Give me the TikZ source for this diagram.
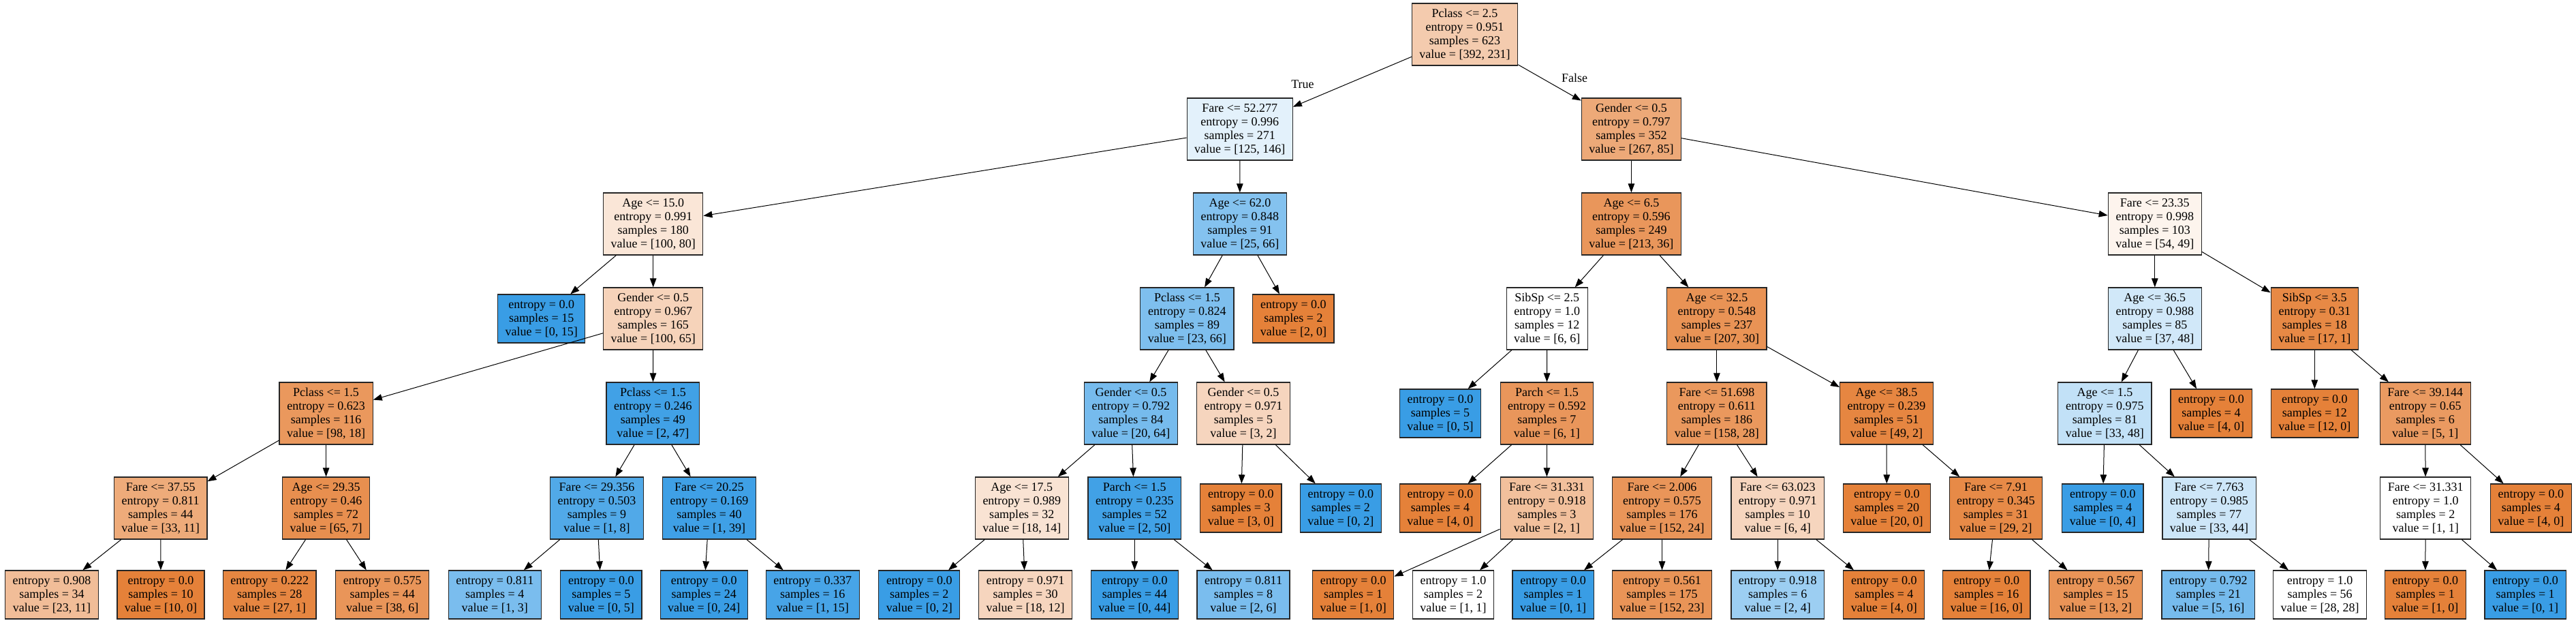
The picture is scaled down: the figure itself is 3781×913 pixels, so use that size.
\documentclass[tikz,border=0pt]{standalone}
\usepackage{fontspec}
\setmainfont{Liberation Serif}
\usetikzlibrary{arrows.meta}
\definecolor{orng}{RGB}{229,129,57}
\definecolor{blu}{RGB}{57,157,229}
\tikzset{
  cond/.style={draw=black!85,line width=1.2pt,align=center,inner xsep=11pt,inner ysep=2pt,minimum height=91pt},
  leaf/.style={cond,minimum height=71pt},
  c0/.style={fill=orng!#1!white},
  c1/.style={fill=blu!#1!white},
  arr/.style={-{Triangle[length=13pt,width=9.5pt]},line width=1pt}
}
\begin{document}
\begin{tikzpicture}[x=1pt,y=-1pt,every node/.style={font=\fontsize{18}{20}\selectfont}]
    \useasboundingbox (0,0) rectangle (3781,913);
    % depth 0 and 1
    \node[cond,c0=41](root)at(2150,50.5){Pclass <= 2.5\\entropy = 0.951\\samples = 623\\value = [392, 231]};
    \node[cond,c1=14](L)at(1819.7,189.5){Fare <= 52.277\\entropy = 0.996\\samples = 271\\value = [125, 146]};
    \node[cond,c0=68](R)at(2394.4,189.5){Gender <= 0.5\\entropy = 0.797\\samples = 352\\value = [267, 85]};
    % depth 2
    \node[cond,c0=20](LL)at(958.7,328.5){Age <= 15.0\\entropy = 0.991\\samples = 180\\value = [100, 80]};
    \node[cond,c1=62](LR)at(1819.9,328.5){Age <= 62.0\\entropy = 0.848\\samples = 91\\value = [25, 66]};
    \node[cond,c0=83](RL)at(2394.4,328.5){Age <= 6.5\\entropy = 0.596\\samples = 249\\value = [213, 36]};
    \node[cond,c0=9](RR)at(3162.8,328.5){Fare <= 23.35\\entropy = 0.998\\samples = 103\\value = [54, 49]};
    % depth 3
    \node[leaf,c1=100](LLL)at(794.7,467.5){entropy = 0.0\\samples = 15\\value = [0, 15]};
    \node[cond,c0=35](LLR)at(958.7,467.5){Gender <= 0.5\\entropy = 0.967\\samples = 165\\value = [100, 65]};
    \node[cond,c1=65](LRL)at(1742.4,467.5){Pclass <= 1.5\\entropy = 0.824\\samples = 89\\value = [23, 66]};
    \node[leaf,c0=100](LRR)at(1898.4,467.5){entropy = 0.0\\samples = 2\\value = [2, 0]};
    \node[cond,c0=0](RLL)at(2270.7,467.5){SibSp <= 2.5\\entropy = 1.0\\samples = 12\\value = [6, 6]};
    \node[cond,c0=86](RLR)at(2519.9,467.5){Age <= 32.5\\entropy = 0.548\\samples = 237\\value = [207, 30]};
    \node[cond,c1=23](RRL)at(3162.8,467.5){Age <= 36.5\\entropy = 0.988\\samples = 85\\value = [37, 48]};
    \node[cond,c0=94](RRR)at(3397.3,467.5){SibSp <= 3.5\\entropy = 0.31\\samples = 18\\value = [17, 1]};
    % depth 4
    \node[cond,c0=82](LLRL)at(478.6,606.5){Pclass <= 1.5\\entropy = 0.623\\samples = 116\\value = [98, 18]};
    \node[cond,c1=96](LLRR)at(958.4,606.5){Pclass <= 1.5\\entropy = 0.246\\samples = 49\\value = [2, 47]};
    \node[cond,c1=69](LRLL)at(1659.9,606.5){Gender <= 0.5\\entropy = 0.792\\samples = 84\\value = [20, 64]};
    \node[cond,c0=33](LRLR)at(1825,606.5){Gender <= 0.5\\entropy = 0.971\\samples = 5\\value = [3, 2]};
    \node[leaf,c1=100](RLLL)at(2114,606.5){entropy = 0.0\\samples = 5\\value = [0, 5]};
    \node[cond,c0=83](RLLR)at(2270.4,606.5){Parch <= 1.5\\entropy = 0.592\\samples = 7\\value = [6, 1]};
    \node[cond,c0=82](RLRL)at(2519.9,606.5){Fare <= 51.698\\entropy = 0.611\\samples = 186\\value = [158, 28]};
    \node[cond,c0=96](RLRR)at(2768.9,606.5){Age <= 38.5\\entropy = 0.239\\samples = 51\\value = [49, 2]};
    \node[cond,c1=31](RRLL)at(3089.4,606.5){Age <= 1.5\\entropy = 0.975\\samples = 81\\value = [33, 48]};
    \node[leaf,c0=100](RRLR)at(3245.5,606.5){entropy = 0.0\\samples = 4\\value = [4, 0]};
    \node[leaf,c0=100](RRRL)at(3397.3,606.5){entropy = 0.0\\samples = 12\\value = [12, 0]};
    \node[cond,c0=80](RRRR)at(3559.7,606.5){Fare <= 39.144\\entropy = 0.65\\samples = 6\\value = [5, 1]};
    % depth 5
    \node[cond,c0=67](LLRLL)at(235.7,745.5){Fare <= 37.55\\entropy = 0.811\\samples = 44\\value = [33, 11]};
    \node[cond,c0=89](LLRLR)at(478.6,745.5){Age <= 29.35\\entropy = 0.46\\samples = 72\\value = [65, 7]};
    \node[cond,c1=88](LLRRL)at(876,745.5){Fare <= 29.356\\entropy = 0.503\\samples = 9\\value = [1, 8]};
    \node[cond,c1=97](LLRRR)at(1041,745.5){Fare <= 20.25\\entropy = 0.169\\samples = 40\\value = [1, 39]};
    \node[cond,c0=22](LRLLL)at(1499.8,745.5){Age <= 17.5\\entropy = 0.989\\samples = 32\\value = [18, 14]};
    \node[cond,c1=96](LRLLR)at(1665.3,745.5){Parch <= 1.5\\entropy = 0.235\\samples = 52\\value = [2, 50]};
    \node[leaf,c0=100](LRLRL)at(1821.4,745.5){entropy = 0.0\\samples = 3\\value = [3, 0]};
    \node[leaf,c1=100](LRLRR)at(1967.8,745.5){entropy = 0.0\\samples = 2\\value = [0, 2]};
    \node[leaf,c0=100](RLLRL)at(2114,745.5){entropy = 0.0\\samples = 4\\value = [4, 0]};
    \node[cond,c0=50](RLLRR)at(2270.4,745.5){Fare <= 31.331\\entropy = 0.918\\samples = 3\\value = [2, 1]};
    \node[cond,c0=84](RLRLL)at(2439.5,745.5){Fare <= 2.006\\entropy = 0.575\\samples = 176\\value = [152, 24]};
    \node[cond,c0=33](RLRLR)at(2609.2,745.5){Fare <= 63.023\\entropy = 0.971\\samples = 10\\value = [6, 4]};
    \node[leaf,c0=100](RLRRL)at(2769.4,745.5){entropy = 0.0\\samples = 20\\value = [20, 0]};
    \node[cond,c0=93](RLRRR)at(2929.4,745.5){Fare <= 7.91\\entropy = 0.345\\samples = 31\\value = [29, 2]};
    \node[leaf,c1=100](RRLLL)at(3086.3,745.5){entropy = 0.0\\samples = 4\\value = [0, 4]};
    \node[cond,c1=25](RRLLR)at(3242.5,745.5){Fare <= 7.763\\entropy = 0.985\\samples = 77\\value = [33, 44]};
    \node[cond,c0=0](RRRRL)at(3560.2,745.5){Fare <= 31.331\\entropy = 1.0\\samples = 2\\value = [1, 1]};
    \node[leaf,c0=100](RRRRR)at(3714.8,745.5){entropy = 0.0\\samples = 4\\value = [4, 0]};
    % depth 6
    \node[leaf,c0=52](LLRLLL)at(76,872.5){entropy = 0.908\\samples = 34\\value = [23, 11]};
    \node[leaf,c0=100](LLRLLR)at(236,872.5){entropy = 0.0\\samples = 10\\value = [10, 0]};
    \node[leaf,c0=96](LLRLRL)at(395.7,872.5){entropy = 0.222\\samples = 28\\value = [27, 1]};
    \node[leaf,c0=84](LLRLRR)at(561.2,872.5){entropy = 0.575\\samples = 44\\value = [38, 6]};
    \node[leaf,c1=67](LLRRLL)at(726.3,872.5){entropy = 0.811\\samples = 4\\value = [1, 3]};
    \node[leaf,c1=100](LLRRLR)at(882.4,872.5){entropy = 0.0\\samples = 5\\value = [0, 5]};
    \node[leaf,c1=100](LLRRRL)at(1033.2,872.5){entropy = 0.0\\samples = 24\\value = [0, 24]};
    \node[leaf,c1=93](LLRRRR)at(1192.8,872.5){entropy = 0.337\\samples = 16\\value = [1, 15]};
    \node[leaf,c1=100](LRLLLL)at(1349.3,872.5){entropy = 0.0\\samples = 2\\value = [0, 2]};
    \node[leaf,c0=33](LRLLLR)at(1505.1,872.5){entropy = 0.971\\samples = 30\\value = [18, 12]};
    \node[leaf,c1=100](LRLLRL)at(1665.3,872.5){entropy = 0.0\\samples = 44\\value = [0, 44]};
    \node[leaf,c1=67](LRLLRR)at(1825,872.5){entropy = 0.811\\samples = 8\\value = [2, 6]};
    \node[leaf,c0=100](RLLRRL)at(1986.2,872.5){entropy = 0.0\\samples = 1\\value = [1, 0]};
    \node[leaf,c0=0](RLLRRR)at(2133,872.5){entropy = 1.0\\samples = 2\\value = [1, 1]};
    \node[leaf,c1=100](RLRLLL)at(2279.6,872.5){entropy = 0.0\\samples = 1\\value = [0, 1]};
    \node[leaf,c0=85](RLRLLR)at(2439.5,872.5){entropy = 0.561\\samples = 175\\value = [152, 23]};
    \node[leaf,c1=50](RLRLRL)at(2609.2,872.5){entropy = 0.918\\samples = 6\\value = [2, 4]};
    \node[leaf,c0=100](RLRLRR)at(2765.3,872.5){entropy = 0.0\\samples = 4\\value = [4, 0]};
    \node[leaf,c0=100](RLRRRL)at(2915.8,872.5){entropy = 0.0\\samples = 16\\value = [16, 0]};
    \node[leaf,c0=85](RLRRRR)at(3076.1,872.5){entropy = 0.567\\samples = 15\\value = [13, 2]};
    \node[leaf,c1=69](RRLLRL)at(3241.3,872.5){entropy = 0.792\\samples = 21\\value = [5, 16]};
    \node[leaf,c0=0](RRLLRR)at(3405.1,872.5){entropy = 1.0\\samples = 56\\value = [28, 28]};
    \node[leaf,c0=100](RRRRLL)at(3559.7,872.5){entropy = 0.0\\samples = 1\\value = [1, 0]};
    \node[leaf,c1=100](RRRRLR)at(3706.6,872.5){entropy = 0.0\\samples = 1\\value = [0, 1]};
    % edges
    \foreach \a/\b in {root/L,root/R,L/LL,L/LR,R/RL,R/RR,
        LL/LLL,LL/LLR,LR/LRL,LR/LRR,RL/RLL,RL/RLR,RR/RRL,RR/RRR,
        LLR/LLRL,LLR/LLRR,LRL/LRLL,LRL/LRLR,RLL/RLLL,RLL/RLLR,RLR/RLRL,RLR/RLRR,RRL/RRLL,RRL/RRLR,RRR/RRRL,RRR/RRRR,
        LLRL/LLRLL,LLRL/LLRLR,LLRR/LLRRL,LLRR/LLRRR,LRLL/LRLLL,LRLL/LRLLR,LRLR/LRLRL,LRLR/LRLRR,RLLR/RLLRL,RLLR/RLLRR,
        RLRL/RLRLL,RLRL/RLRLR,RLRR/RLRRL,RLRR/RLRRR,RRLL/RRLLL,RRLL/RRLLR,RRRR/RRRRL,RRRR/RRRRR,
        LLRLL/LLRLLL,LLRLL/LLRLLR,LLRLR/LLRLRL,LLRLR/LLRLRR,LLRRL/LLRRLL,LLRRL/LLRRLR,LLRRR/LLRRRL,LLRRR/LLRRRR,
        LRLLL/LRLLLL,LRLLL/LRLLLR,LRLLR/LRLLRL,LRLLR/LRLLRR,RLLRR/RLLRRL,RLLRR/RLLRRR,RLRLL/RLRLLL,RLRLL/RLRLLR,
        RLRLR/RLRLRL,RLRLR/RLRLRR,RLRRR/RLRRRL,RLRRR/RLRRRR,RRLLR/RRLLRL,RRLLR/RRLLRR,RRRRL/RRRRLL,RRRRL/RRRRLR}
        \draw[arr] (\a) -- (\b);
    \node(true)at(1912,124){True};
    \node(false)at(2311,114){False};
\end{tikzpicture}
\end{document}
